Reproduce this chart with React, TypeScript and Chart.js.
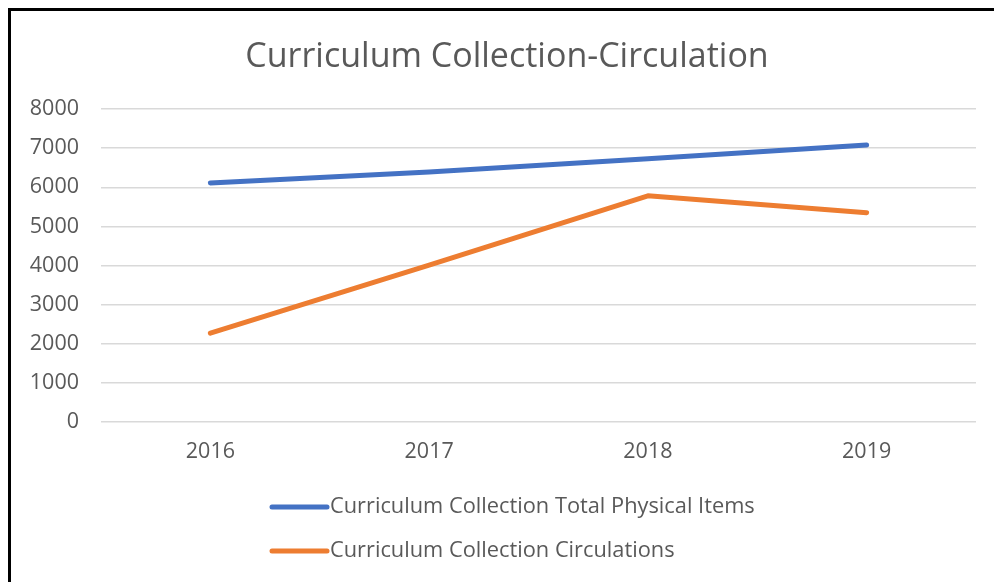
import { useEffect, useRef } from "react";
import { Chart, registerables } from "chart.js";

Chart.register(...registerables);

const FONT = "'Open Sans', sans-serif";
const TEXT_COLOR = "#595959";

const titleText = "Curriculum Collection-Circulation";
const categories = ["2016", "2017", "2018", "2019"];
const seriesLabels = [
  "Curriculum Collection Total Physical Items",
  "Curriculum Collection Circulations",
];
const totalPhysicalItems = [6110, 6390, 6730, 7080];
const circulations = [2270, 4010, 5780, 5350];
const seriesColors = ["#4472C4", "#ED7D31"];
const yMin = 0;
const yMax = 8000;
const yStep = 1000;

const overlayPlugin = {
  id: "overlay",
  afterDraw(chart: any) {
    const ctx = chart.ctx as CanvasRenderingContext2D;
    ctx.save();
    ctx.fillStyle = TEXT_COLOR;
    ctx.font = `34px ${FONT}`;
    ctx.textAlign = "center";
    ctx.textBaseline = "middle";
    ctx.fillText(titleText, 496, 46);

    chart.data.datasets.forEach((ds: any, i: number) => {
      const y = 496 + i * 44;
      ctx.strokeStyle = ds.borderColor;
      ctx.lineWidth = 5;
      ctx.lineCap = "round";
      ctx.beginPath();
      ctx.moveTo(261, y);
      ctx.lineTo(316, y);
      ctx.stroke();
      ctx.fillStyle = TEXT_COLOR;
      ctx.font = `21.8px ${FONT}`;
      ctx.textAlign = "left";
      ctx.textBaseline = "middle";
      ctx.fillText(ds.label, 319, y);
    });
    ctx.restore();
  },
};

export default function App() {
  const ref = useRef<HTMLCanvasElement | null>(null);

  useEffect(() => {
    if (!ref.current) return;
    const chart = new Chart(ref.current, {
      type: "line",
      data: {
        labels: categories,
        datasets: [
          {
            label: seriesLabels[0],
            data: totalPhysicalItems,
            borderColor: seriesColors[0],
            backgroundColor: seriesColors[0],
            borderWidth: 5,
            borderCapStyle: "round",
            borderJoinStyle: "round",
            pointRadius: 0,
            tension: 0,
          },
          {
            label: seriesLabels[1],
            data: circulations,
            borderColor: seriesColors[1],
            backgroundColor: seriesColors[1],
            borderWidth: 5,
            borderCapStyle: "round",
            borderJoinStyle: "round",
            pointRadius: 0,
            tension: 0,
          },
        ],
      },
      options: {
        responsive: false,
        animation: false,
        layout: { padding: { top: 98, right: 18, left: 0, bottom: 0 } },
        plugins: {
          legend: { display: false },
          title: { display: false },
          tooltip: { enabled: false },
        },
        scales: {
          x: {
            offset: true,
            grid: { display: false, drawTicks: false },
            border: { display: false },
            ticks: {
              color: TEXT_COLOR,
              font: { family: FONT, size: 21.5 },
              padding: 17,
            },
            afterFit: (s: any) => {
              s.height = 160;
            },
          },
          y: {
            min: yMin,
            max: yMax,
            grid: { color: "#d9d9d9", lineWidth: 1.5, drawTicks: false },
            border: { display: false },
            ticks: {
              stepSize: yStep,
              color: TEXT_COLOR,
              font: { family: FONT, size: 21.5 },
              padding: 22,
              callback: (v: any) => String(v),
            },
            afterFit: (s: any) => {
              s.width = 90;
            },
          },
        },
      },
      plugins: [overlayPlugin],
    });
    return () => chart.destroy();
  }, []);

  return (
    <div
      style={{
        position: "fixed",
        left: 8,
        top: 8,
        width: 986,
        height: 574,
        borderLeft: "3px solid #000",
        borderTop: "3px solid #000",
        boxSizing: "border-box",
        background: "#fff",
        overflow: "hidden",
      }}
    >
      <canvas ref={ref} width={983} height={571} style={{ display: "block" }} />
    </div>
  );
}
